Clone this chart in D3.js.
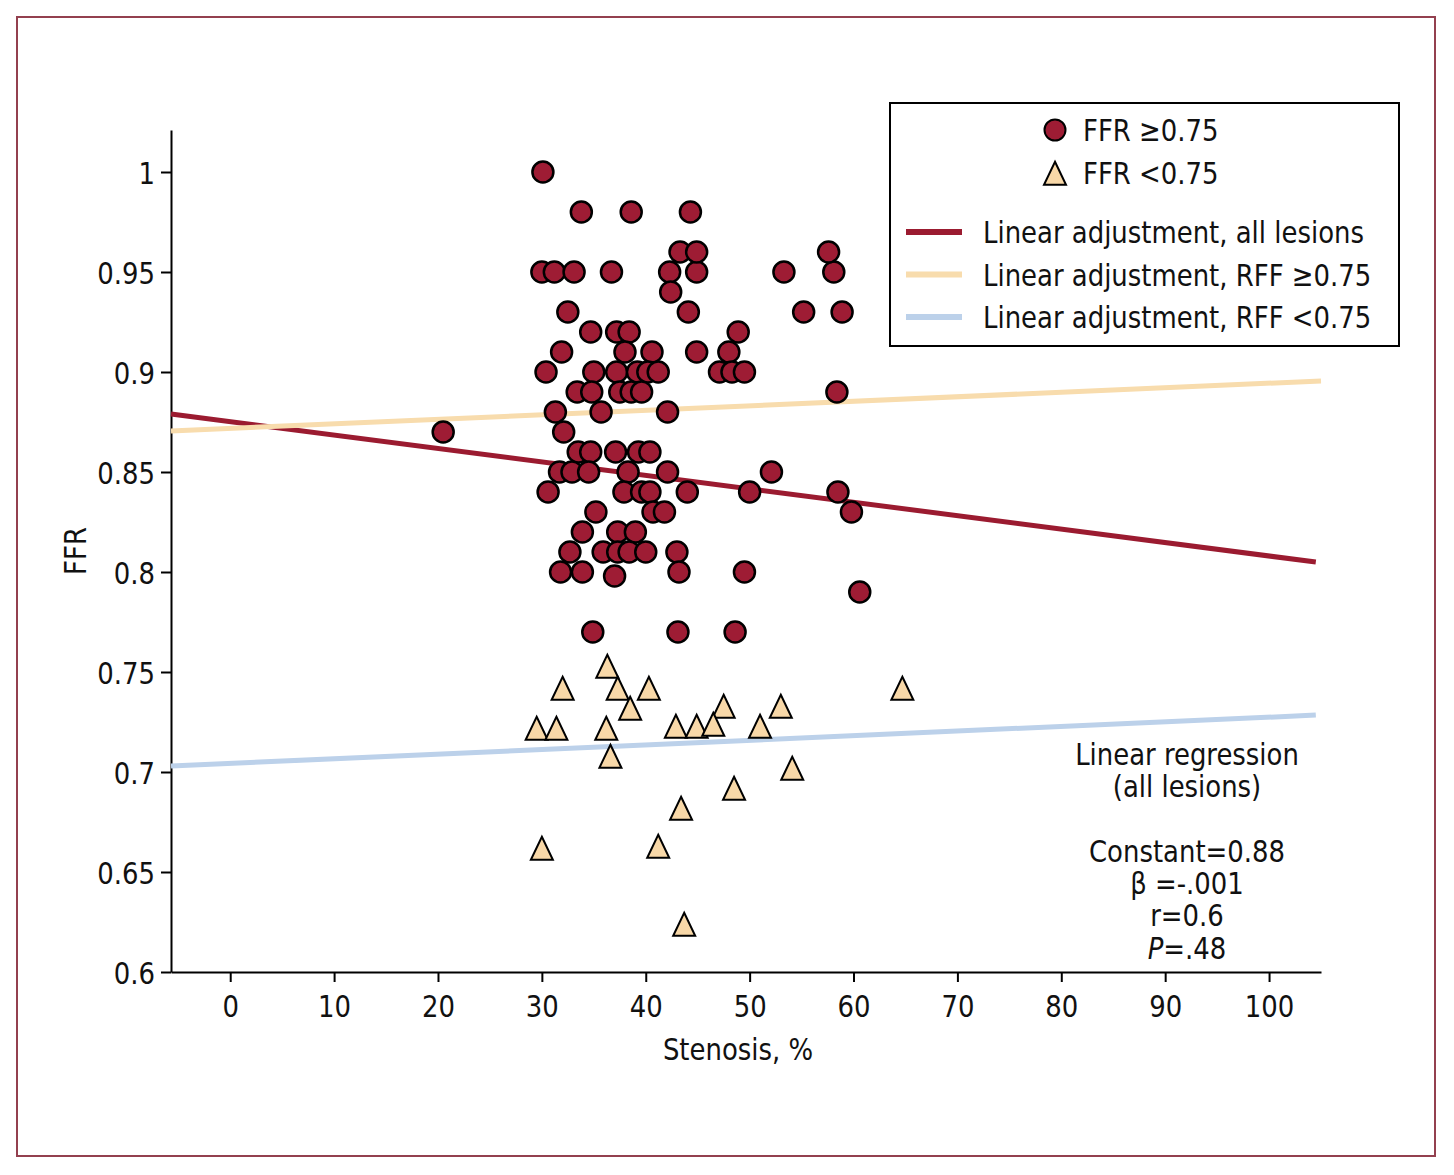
<!DOCTYPE html>
<html>
<head>
<meta charset="utf-8">
<script src="https://cdn.jsdelivr.net/npm/d3@7"></script>
<style>
    body { margin: 0; background: #fff; }
    text { font-family: "Liberation Sans Narrow", "DejaVu Sans Condensed", sans-serif; fill: #111; }
</style>
</head>
<body>
<div id="viz"></div>
<script>
// FFR >= 0.75 lesions: [stenosis %, FFR]
const highFFR = [
    [30.1, 1.00], [33.8, 0.98], [38.6, 0.98], [44.3, 0.98],
    [30.0, 0.95], [31.2, 0.95], [33.1, 0.95], [36.7, 0.95], [42.3, 0.95], [44.9, 0.95], [53.3, 0.95], [58.1, 0.95],
    [43.3, 0.96], [44.9, 0.96], [57.6, 0.96],
    [42.4, 0.94],
    [32.5, 0.93], [44.1, 0.93], [55.2, 0.93], [58.9, 0.93],
    [34.7, 0.92], [37.2, 0.92], [38.4, 0.92], [48.9, 0.92],
    [31.9, 0.91], [38.0, 0.91], [40.6, 0.91], [44.9, 0.91], [48.0, 0.91],
    [30.4, 0.90], [35.0, 0.90], [37.2, 0.90], [39.2, 0.90], [40.2, 0.90], [41.2, 0.90], [47.1, 0.90], [48.3, 0.90], [49.5, 0.90],
    [33.4, 0.89], [34.8, 0.89], [37.5, 0.89], [38.6, 0.89], [39.6, 0.89], [58.4, 0.89],
    [31.3, 0.88], [35.7, 0.88], [42.1, 0.88],
    [20.5, 0.87], [32.1, 0.87],
    [33.5, 0.86], [34.7, 0.86], [37.1, 0.86], [39.3, 0.86], [40.4, 0.86],
    [31.7, 0.85], [32.9, 0.85], [34.5, 0.85], [38.3, 0.85], [42.1, 0.85], [52.1, 0.85],
    [30.6, 0.84], [37.9, 0.84], [39.6, 0.84], [40.4, 0.84], [44.0, 0.84], [50.0, 0.84], [58.5, 0.84],
    [35.2, 0.83], [40.7, 0.83], [41.8, 0.83], [59.8, 0.83],
    [33.9, 0.82], [37.3, 0.82], [39.0, 0.82],
    [32.7, 0.81], [35.9, 0.81], [37.3, 0.81], [38.4, 0.81], [40.0, 0.81], [43.0, 0.81],
    [31.8, 0.80], [33.9, 0.80], [37.0, 0.798], [43.2, 0.80], [49.5, 0.80],
    [60.6, 0.79],
    [34.9, 0.77], [43.1, 0.77], [48.6, 0.77]
];

// FFR < 0.75 lesions: [stenosis %, FFR]
const lowFFR = [
    [36.3, 0.751], [32.0, 0.74], [37.3, 0.74], [40.3, 0.74], [64.7, 0.74],
    [38.5, 0.73], [47.5, 0.731], [53.0, 0.731],
    [29.5, 0.72], [31.4, 0.72], [36.2, 0.72], [42.9, 0.721], [44.9, 0.721], [46.5, 0.722], [51.0, 0.721],
    [36.6, 0.706], [54.1, 0.70], [48.5, 0.69], [43.4, 0.68],
    [30.0, 0.66], [41.2, 0.661], [43.7, 0.622]
];

// fitted lines: intercept, slope, x range
const fitNames = ["Linear adjustment, all lesions", "Linear adjustment, RFF \u22650.75", "Linear adjustment, RFF <0.75"];
const fitIntercepts = [0.8752, 0.8718, 0.7043];
const fitSlopes = [-0.000672, 0.000226, 0.000231];
const fitRanges = [[-5.7, 104.5], [-5.7, 105], [-5.7, 104.5]];
const fitColors = ["#9b1b30", "#f8dcad", "#bcd1ea"];

const xTicks = [0, 10, 20, 30, 40, 50, 60, 70, 80, 90, 100];
const yTicks = [0.6, 0.65, 0.7, 0.75, 0.8, 0.85, 0.9, 0.95, 1];

const statLines = ["Linear regression", "(all lesions)", "", "Constant=0.88", "\u03b2 =-.001", "r=0.6", "P=.48"];

document.addEventListener("DOMContentLoaded", () => {
    const width = 1454;
    const height = 1175;
    const sx = 0.93; // squeeze text to look like a condensed face

    const svg = d3.select('#viz').append('svg')
        .attr('width', width)
        .attr('height', height);

    function label(parent, px, py, str, anchor) {
        return parent.append("text")
            .attr("transform", "translate(" + px + "," + py + ") scale(" + sx + ",1)")
            .attr("text-anchor", anchor || "start")
            .attr("font-size", 31)
            .text(str);
    }

    // outer frame
    svg.append("rect")
        .attr("x", 17).attr("y", 17)
        .attr("width", 1418).attr("height", 1139)
        .attr("fill", "none")
        .attr("stroke", "#93404f")
        .attr("stroke-width", 2);

    const x = d3.scaleLinear().domain([-5.7, 105]).range([171, 1321]);
    const y = d3.scaleLinear().domain([0.6, 1.021]).range([972, 130]);

    const xAxis = svg.append("g")
        .attr("transform", "translate(0,972)")
        .call(d3.axisBottom(x).tickValues(xTicks).tickSize(10).tickSizeOuter(0).tickPadding(13));
    const yAxis = svg.append("g")
        .attr("transform", "translate(171,0)")
        .call(d3.axisLeft(y).tickValues(yTicks).tickSize(10).tickSizeOuter(0).tickPadding(6)
            .tickFormat(d => String(+d.toFixed(2))));

    [xAxis, yAxis].forEach(a => {
        a.select(".domain").attr("stroke", "#000").attr("stroke-width", 2);
        a.selectAll(".tick line").attr("stroke", "#000").attr("stroke-width", 2);
        a.selectAll(".tick text")
            .attr("font-size", 31)
            .attr("font-family", null)
            .attr("fill", "#111")
            .attr("transform", "scale(" + sx + ",1)");
    });
    yAxis.selectAll(".tick text").attr("dy", "0.36em").attr("x", -16 / sx);

    label(svg, 738, 1060, "Stenosis, %", "middle");

    svg.append("text")
        .attr("transform", "translate(86,551) rotate(-90) scale(" + sx + ",1)")
        .attr("text-anchor", "middle")
        .attr("font-size", 31)
        .text("FFR");

    // regression lines
    fitNames.forEach((name, i) => {
        const [x0, x1] = fitRanges[i];
        svg.append("line")
            .attr("x1", x(x0)).attr("y1", y(fitIntercepts[i] + fitSlopes[i] * x0))
            .attr("x2", x(x1)).attr("y2", y(fitIntercepts[i] + fitSlopes[i] * x1))
            .attr("stroke", fitColors[i])
            .attr("stroke-width", 5);
    });

    const triPath = "M0,-15.3L11,7.7L-11,7.7Z";

    svg.append("g").selectAll("path")
        .data(lowFFR)
        .enter()
        .append("path")
        .attr("transform", d => "translate(" + x(d[0]) + "," + y(d[1]) + ")")
        .attr("d", triPath)
        .attr("fill", "#f8d8a8")
        .attr("stroke", "#000")
        .attr("stroke-width", 2);

    svg.append("g").selectAll("circle")
        .data(highFFR)
        .enter()
        .append("circle")
        .attr("cx", d => x(d[0]))
        .attr("cy", d => y(d[1]))
        .attr("r", 10.5)
        .attr("fill", "#9e1c34")
        .attr("stroke", "#000")
        .attr("stroke-width", 2.5);

    // legend
    const legend = svg.append("g");
    legend.append("rect")
        .attr("x", 890).attr("y", 103)
        .attr("width", 509).attr("height", 243)
        .attr("fill", "#fff")
        .attr("stroke", "#000")
        .attr("stroke-width", 2);

    legend.append("circle")
        .attr("cx", 1055).attr("cy", 130).attr("r", 10.5)
        .attr("fill", "#9e1c34").attr("stroke", "#000").attr("stroke-width", 2);
    label(legend, 1083, 141, "FFR \u22650.75");

    legend.append("path")
        .attr("transform", "translate(1055,177)")
        .attr("d", triPath)
        .attr("fill", "#f8d8a8").attr("stroke", "#000").attr("stroke-width", 2);
    label(legend, 1083, 184, "FFR <0.75");

    fitNames.forEach((name, i) => {
        const ly = 232 + i * 42.5;
        legend.append("line")
            .attr("x1", 906).attr("x2", 962)
            .attr("y1", ly).attr("y2", ly)
            .attr("stroke", fitColors[i])
            .attr("stroke-width", 6);
        label(legend, 983, ly + 11, name);
    });

    // regression statistics
    const stats = svg.append("text")
        .attr("transform", "translate(1187,0) scale(" + sx + ",1)")
        .attr("text-anchor", "middle")
        .attr("font-size", 31);
    statLines.forEach((line, i) => {
        const t = stats.append("tspan")
            .attr("x", 0)
            .attr("y", 765 + i * 32.3);
        if (line.startsWith("P=")) {
            t.append("tspan").attr("font-style", "italic").text("P");
            t.append("tspan").text(line.slice(1));
        } else {
            t.text(line);
        }
    });
});
</script>
</body>
</html>
